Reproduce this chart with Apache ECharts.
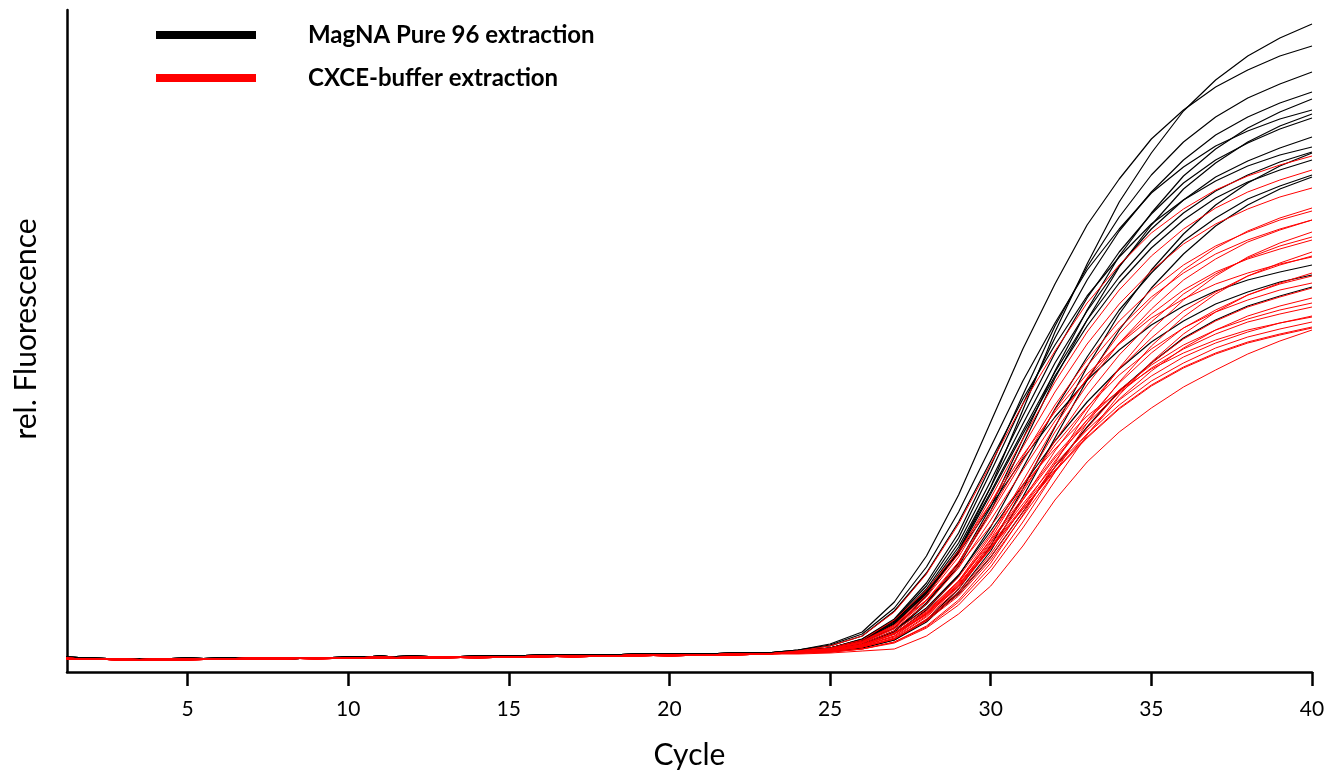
<!DOCTYPE html>
<html>
<head>
<meta charset="utf-8">
<title>rel. Fluorescence vs Cycle</title>
<script src="https://cdn.jsdelivr.net/npm/echarts@6/dist/echarts.min.js"></script>
<style>
  html, body { margin: 0; padding: 0; background: #fff; }
  #chart { width: 1339px; height: 772px; }
</style>
</head>
<body>
<div id="chart"></div>
<script>
// cycle numbers (x values)
const cycles = [1, 2, 3, 4, 5, 6, 7, 8, 9, 10, 11, 12, 13, 14, 15, 16, 17, 18, 19, 20,
  21, 22, 23, 24, 25, 26, 27, 28, 29, 30, 31, 32, 33, 34, 35, 36, 37, 38, 39, 40];
const xTicks = [5, 10, 15, 20, 25, 30, 35, 40];

// baseline readings, cycles 1-23
const blackBase = [
  [15, 14, 13, 13, 13, 14, 14, 14, 14, 15, 15, 16, 15, 16, 16, 17, 17, 17, 17, 18, 18, 18, 19],
  [14, 13, 13, 13, 14, 13, 14, 13, 14, 14, 16, 14, 15, 15, 16, 16, 17, 17, 18, 18, 18, 19, 19]
];
const redBase = [
  [14, 13, 12, 12, 13, 13, 13, 13, 14, 14, 14, 14, 14, 15, 15, 15, 16, 16, 16, 17, 17, 17, 18],
  [13, 13, 12, 13, 13, 13, 14, 14, 14, 14, 15, 14, 15, 15, 15, 16, 16, 16, 17, 17, 17, 18, 18],
  [14, 13, 13, 12, 12, 13, 13, 14, 13, 14, 14, 15, 15, 14, 15, 16, 15, 16, 17, 16, 17, 18, 18]
];

// MagNA Pure 96 extraction, cycles 24-40
const magna = [
  [22, 28, 40, 70, 116, 177, 250, 323, 388, 447, 493, 533, 562, 585, 602, 616, 626],
  [21, 23, 30, 44, 76, 121, 185, 262, 340, 408, 470, 519, 561, 592, 616, 634, 648],
  [21, 24, 33, 53, 89, 139, 206, 277, 346, 405, 455, 497, 530, 555, 574, 588, 600],
  [21, 24, 33, 52, 86, 134, 200, 268, 334, 392, 441, 480, 512, 537, 555, 569, 580],
  [20, 23, 28, 41, 69, 109, 165, 233, 301, 362, 416, 459, 496, 523, 544, 560, 573],
  [22, 27, 38, 64, 105, 160, 225, 291, 349, 402, 443, 479, 505, 526, 541, 553, 562],
  [21, 24, 32, 50, 83, 129, 191, 256, 319, 374, 420, 458, 489, 512, 529, 543, 554],
  [20, 22, 28, 40, 68, 106, 161, 227, 294, 352, 405, 447, 483, 509, 530, 546, 558],
  [21, 24, 32, 49, 81, 125, 185, 248, 309, 361, 406, 443, 472, 495, 511, 524, 535],
  [22, 26, 36, 61, 99, 150, 211, 273, 327, 376, 415, 448, 472, 491, 506, 517, 525],
  [20, 21, 24, 32, 52, 83, 126, 183, 245, 305, 358, 402, 438, 467, 489, 506, 519],
  [20, 23, 31, 48, 78, 120, 178, 238, 296, 346, 389, 424, 452, 474, 490, 502, 512],
  [20, 22, 27, 38, 62, 96, 145, 204, 263, 315, 362, 399, 431, 454, 473, 486, 497],
  [19, 20, 24, 32, 50, 80, 121, 175, 234, 292, 342, 384, 418, 446, 467, 483, 495],
  [21, 24, 32, 51, 80, 119, 166, 213, 255, 292, 322, 347, 366, 381, 392, 400, 407],
  [20, 22, 28, 41, 64, 97, 141, 187, 231, 270, 303, 330, 351, 368, 380, 390, 397],
  [19, 21, 25, 33, 52, 78, 115, 160, 205, 245, 281, 309, 334, 352, 366, 376, 385],
  [21, 24, 31, 48, 79, 122, 180, 241, 300, 352, 395, 431, 459, 481, 497, 510, 520]
];

// CXCE-buffer extraction, cycles 24-40
const cxce = [
  [21, 26, 36, 60, 98, 148, 208, 268, 321, 369, 407, 439, 463, 482, 496, 507, 516],
  [20, 23, 31, 47, 77, 118, 174, 233, 290, 340, 382, 416, 443, 464, 480, 492, 502],
  [20, 23, 30, 46, 75, 115, 169, 225, 280, 328, 368, 401, 428, 448, 463, 475, 484],
  [20, 22, 26, 36, 59, 91, 136, 191, 246, 294, 338, 372, 402, 424, 441, 454, 464],
  [20, 23, 30, 45, 72, 110, 161, 215, 267, 312, 351, 382, 407, 426, 440, 452, 461],
  [20, 22, 26, 36, 58, 89, 133, 186, 240, 287, 329, 363, 392, 413, 430, 442, 452],
  [20, 23, 29, 44, 71, 108, 158, 211, 262, 306, 344, 375, 399, 418, 432, 443, 452],
  [19, 20, 23, 30, 46, 72, 109, 157, 209, 260, 304, 342, 372, 396, 415, 429, 440],
  [20, 21, 26, 35, 56, 86, 129, 180, 231, 277, 317, 350, 378, 398, 414, 426, 435],
  [20, 23, 29, 43, 68, 104, 152, 202, 251, 293, 329, 358, 382, 400, 413, 423, 432],
  [19, 20, 23, 30, 45, 70, 105, 150, 200, 249, 290, 326, 355, 378, 396, 409, 420],
  [20, 21, 25, 34, 55, 83, 124, 172, 221, 264, 303, 334, 361, 380, 396, 407, 416],
  [21, 24, 32, 52, 82, 121, 169, 217, 260, 298, 328, 354, 373, 388, 399, 408, 415],
  [19, 20, 23, 29, 44, 67, 101, 144, 191, 237, 277, 310, 338, 360, 377, 389, 399],
  [20, 21, 25, 33, 53, 80, 118, 165, 211, 252, 289, 319, 344, 362, 377, 388, 396],
  [20, 22, 28, 41, 63, 95, 138, 183, 227, 265, 297, 323, 344, 360, 372, 382, 389],
  [19, 21, 25, 33, 52, 78, 115, 160, 205, 244, 280, 309, 333, 351, 365, 375, 384],
  [19, 21, 25, 33, 51, 76, 112, 156, 200, 238, 273, 301, 324, 342, 356, 366, 374],
  [20, 22, 27, 39, 61, 91, 132, 174, 216, 252, 282, 307, 327, 342, 353, 362, 369],
  [20, 22, 27, 39, 60, 90, 130, 172, 214, 249, 279, 304, 323, 338, 350, 358, 365],
  [20, 23, 30, 47, 72, 106, 146, 187, 223, 256, 281, 303, 319, 332, 342, 349, 355],
  [20, 22, 27, 38, 59, 88, 127, 168, 208, 242, 272, 296, 315, 329, 340, 349, 356],
  [20, 22, 27, 38, 58, 87, 125, 165, 205, 238, 267, 291, 309, 324, 335, 343, 350],
  [20, 22, 27, 38, 58, 86, 124, 163, 202, 235, 264, 287, 305, 319, 330, 338, 345],
  [20, 22, 27, 38, 57, 85, 123, 163, 201, 234, 263, 286, 304, 318, 329, 337, 344],
  [18, 19, 21, 23, 36, 58, 86, 126, 172, 210, 240, 264, 285, 302, 318, 331, 342]
];

const NAME_MAGNA = 'MagNA Pure 96 extraction';
const NAME_CXCE = 'CXCE-buffer extraction';
const FONT = 'Lato, "Open Sans", sans-serif';

function toPoints(base, rise) {
  return base.concat(rise).map((v, i) => [cycles[i], v]);
}

const series = [];
magna.forEach((rise, i) => {
  series.push({
    name: NAME_MAGNA,
    type: 'line',
    color: '#000000',
    showSymbol: false,
    symbol: 'none',
    lineStyle: { width: 1.2, color: '#000000' },
    data: toPoints(blackBase[i % blackBase.length], rise)
  });
});
cxce.forEach((rise, i) => {
  series.push({
    name: NAME_CXCE,
    type: 'line',
    color: '#ff0000',
    showSymbol: false,
    symbol: 'none',
    lineStyle: { width: 1, color: '#ff0000' },
    data: toPoints(redBase[i % redBase.length], rise)
  });
});

const chart = echarts.init(document.getElementById('chart'));
chart.setOption({
  animation: false,
  backgroundColor: '#ffffff',
  grid: { left: 67, right: 27, top: 10, bottom: 100, outerBoundsMode: 'none' },
  legend: {
    orient: 'vertical',
    left: 151,
    top: 18,
    itemWidth: 100,
    itemHeight: 8,
    itemGap: 19,
    selectedMode: false,
    data: [
      { name: NAME_MAGNA, icon: 'rect', itemStyle: { color: '#000000' } },
      { name: NAME_CXCE, icon: 'rect', itemStyle: { color: '#ff0000' } }
    ],
    textStyle: {
      fontFamily: FONT,
      fontSize: 24,
      fontWeight: 'bold',
      color: '#000',
      padding: [0, 0, 0, 47]
    }
  },
  xAxis: {
    type: 'value',
    min: 1.25,
    max: 40,
    name: 'Cycle',
    nameLocation: 'middle',
    nameGap: 68,
    nameTextStyle: { fontFamily: FONT, fontSize: 30, color: '#000' },
    axisLine: { lineStyle: { color: '#000', width: 2.5 } },
    axisTick: { show: true, length: 14, lineStyle: { width: 2.5, color: '#000' }, customValues: xTicks },
    axisLabel: { fontFamily: FONT, fontSize: 21, color: '#000', margin: 27, customValues: xTicks },
    splitLine: { show: false }
  },
  yAxis: {
    type: 'value',
    min: 0,
    max: 662,
    name: 'rel. Fluorescence',
    nameLocation: 'middle',
    nameGap: 26,
    nameTextStyle: { fontFamily: FONT, fontSize: 30, color: '#000', padding: [0, 0, 0, 24] },
    axisLine: { show: true, lineStyle: { color: '#000', width: 2.5 } },
    axisTick: { show: false },
    axisLabel: { show: false },
    splitLine: { show: false }
  },
  series: series
});
</script>
</body>
</html>
